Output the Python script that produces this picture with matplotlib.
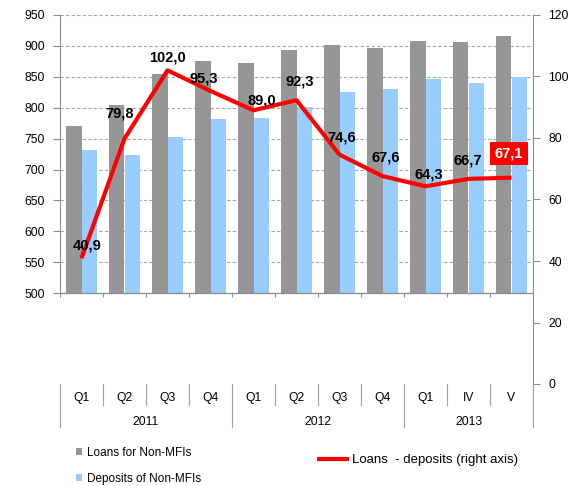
import numpy as np
import matplotlib
matplotlib.use('Agg')
import matplotlib.pyplot as plt
from matplotlib.transforms import blended_transform_factory

plt.rcParams['font.family'] = ['Liberation Sans', 'DejaVu Sans']

# ---- data ----
quarters = ['Q1', 'Q2', 'Q3', 'Q4', 'Q1', 'Q2', 'Q3', 'Q4', 'Q1', 'IV', 'V']
years = ['2011', '2012', '2013']
year_spans = [(0, 3), (4, 7), (8, 10)]
loans = [771, 804, 854, 876, 872, 893, 901, 897, 908, 906, 916]
deposits = [732, 724, 753, 781, 783, 801, 825, 831, 846, 840, 850]
ratio = [40.9, 79.8, 102.0, 95.3, 89.0, 92.3, 74.6, 67.6, 64.3, 66.7, 67.1]
left_ticks = list(range(500, 951, 50))
right_ticks = list(range(0, 121, 20))

# label offsets (pixels) relative to each line point
label_offsets = [(6, 13), (-4.5, 25.5), (-0.5, 13), (-6.5, 12), (8.5, 10), (3.5, 19),
                 (2.5, 17.5), (3.5, 19), (3.5, 12), (-0.5, 18), (-2.5, 24)]

W, H = 584, 486
fig = plt.figure(figsize=(W / 100, H / 100), dpi=100)
ax = fig.add_axes([60 / W, 1 - 384 / H, 473 / W, 369 / H])

GRAY = '#969696'
BLUE = '#99CCFF'
AXC = '#8C8C8C'
base = 500
x = np.arange(len(quarters))
bw = 0.35
b1 = ax.bar(x - bw / 2, np.array(loans) - base, bw, bottom=base, color=GRAY,
            label='Loans for Non-MFIs', zorder=2)
b2 = ax.bar(x + bw / 2, np.array(deposits) - base, bw, bottom=base, color=BLUE,
            label='Deposits of Non-MFIs', zorder=2)

ax.set_xlim(-0.5, len(quarters) - 0.5)
ax.set_ylim(353, 950)
ax.set_yticks(left_ticks)
for yv in left_ticks[1:]:
    ax.axhline(yv, color='#A6A6A6', lw=0.8, ls=(0, (3, 2)), zorder=1)
ax.axhline(base, color=AXC, lw=0.9, zorder=3)
# small tick marks at category boundaries on the baseline
ax.vlines(np.arange(-0.5, len(quarters), 1.0), base - 6, base, color=AXC, lw=0.8, zorder=3)

for s in ['top', 'bottom', 'right']:
    ax.spines[s].set_visible(False)
ax.spines['left'].set_bounds(500, 950)
ax.spines['left'].set_color(AXC)
ax.set_xticks([])
ax.tick_params(axis='y', direction='out', length=5, color=AXC, width=0.8,
               labelsize=8.7, pad=6)

ax2 = ax.twinx()
ax2.set_ylim(0, 120)
ax2.set_yticks(right_ticks)
for s in ['top', 'bottom', 'left']:
    ax2.spines[s].set_visible(False)
ax2.spines['right'].set_color(AXC)
ax2.tick_params(axis='y', direction='out', length=5, color=AXC, width=0.8,
                labelsize=8.7, pad=6)
line, = ax2.plot(x, ratio, color='#FF0000', lw=3, solid_joinstyle='round',
                 solid_capstyle='butt', zorder=4, label='Loans  - deposits (right axis)')

for i, (xv, v) in enumerate(zip(x, ratio)):
    dx, dy = label_offsets[i]
    txt = f"{v:.1f}".replace('.', ',')
    if i == len(ratio) - 1:
        ax2.annotate(txt, (xv, v), xytext=(dx * 0.72, dy * 0.72), textcoords='offset points',
                     ha='center', va='center', fontsize=10.5, fontweight='bold', color='white',
                     bbox=dict(boxstyle='square,pad=0.33', fc='#FF0000', ec='none'), zorder=6)
    else:
        ax2.annotate(txt, (xv, v), xytext=(dx * 0.72, dy * 0.72), textcoords='offset points',
                     ha='center', va='center', fontsize=10.5, fontweight='bold', color='black',
                     zorder=6)

# category axis (two-level)
tr = blended_transform_factory(ax.transData, ax.transAxes)
AH = 369.0
for i, q in enumerate(quarters):
    ax.text(i, -(398 - 384) / AH, q, transform=tr, ha='center', va='center', fontsize=8.7)
for (a, b), yl in zip(year_spans, years):
    ax.text((a + b) / 2, -(422 - 384) / AH, yl, transform=tr, ha='center', va='center',
            fontsize=8.7)
year_bounds = [a - 0.5 for a, b in year_spans] + [year_spans[-1][1] + 0.5]
for bnd in np.arange(-0.5, len(quarters), 1.0):
    low = -(427 - 384) / AH if bnd in year_bounds else -(405 - 384) / AH
    ax.plot([bnd, bnd], [0, low], transform=tr, color='#A0A0A0', lw=0.8, clip_on=False)

# legends
fig.legend(handles=[b1, b2], loc='center left', bbox_to_anchor=(76 / W, 1 - 466 / H),
           frameon=False, fontsize=8.5, handlelength=0.55, handleheight=0.55,
           handletextpad=0.35, labelspacing=1.2, borderpad=0, borderaxespad=0)
fig.legend(handles=[line], loc='center left', bbox_to_anchor=(317 / W, 1 - 460 / H),
           frameon=False, fontsize=9.5, handlelength=2.4, handletextpad=0.25,
           borderpad=0, borderaxespad=0)

fig.savefig('out.png', dpi=100)
